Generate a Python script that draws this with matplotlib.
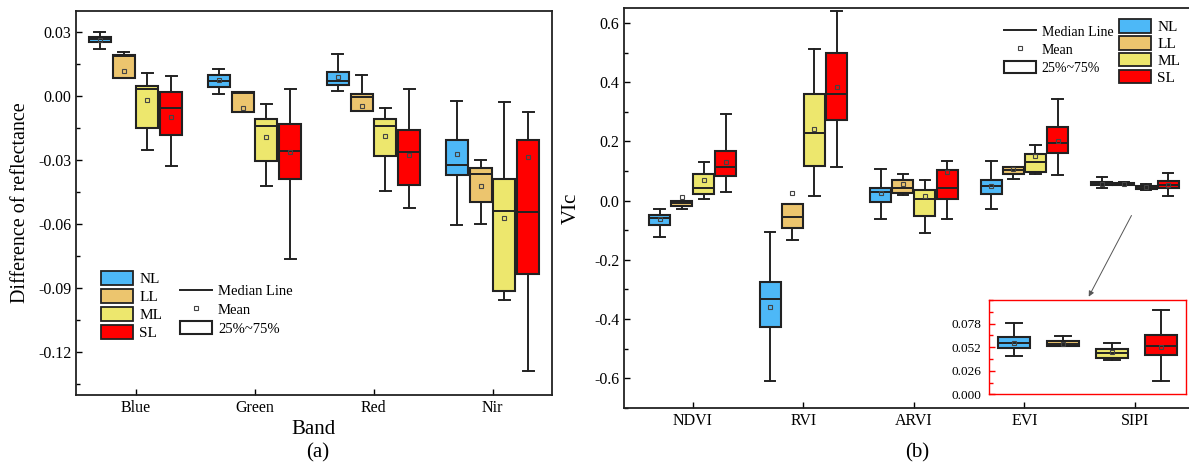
import matplotlib as mpl
mpl.use('Agg')
import matplotlib.pyplot as plt
from matplotlib.patches import Patch
from matplotlib.lines import Line2D
from matplotlib.ticker import MultipleLocator

plt.rcParams['font.family'] = ['Liberation Serif', 'DejaVu Serif']

levels = ['NL', 'LL', 'ML', 'SL']
colors = ['#4db8f7', '#ecc56e', '#ede76d', '#ff0000']

# (a) reflectance difference, rows = levels, columns = bands
bands = ['Blue', 'Green', 'Red', 'Nir']
a_low = [[0.0222, 0.0012, 0.0022, -0.0602],
         [0.0086, -0.0073, -0.0069, -0.0599],
         [-0.0252, -0.0420, -0.0444, -0.0956],
         [-0.0327, -0.0764, -0.0523, -0.1289]]
a_q1 = [[0.0252, 0.0044, 0.0053, -0.0369],
        [0.0086, -0.0073, -0.0069, -0.0498],
        [-0.0149, -0.0305, -0.0281, -0.0914],
        [-0.0181, -0.0388, -0.0417, -0.0831]]
a_med = [[0.0266, 0.0073, 0.0073, -0.0323],
         [0.0190, 0.0015, -0.0003, -0.0364],
         [0.0033, -0.0139, -0.0139, -0.0538],
         [-0.0056, -0.0255, -0.0264, -0.0544]]
a_q3 = [[0.0278, 0.0100, 0.0111, -0.0205],
        [0.0191, 0.0020, 0.0008, -0.0339],
        [0.0047, -0.0109, -0.0109, -0.0389],
        [0.0020, -0.0133, -0.0161, -0.0205]]
a_high = [[0.0301, 0.0125, 0.0197, -0.0022],
          [0.0208, 0.0020, 0.0098, -0.0300],
          [0.0109, -0.0037, -0.0056, -0.0027],
          [0.0095, 0.0031, 0.0031, -0.0075]]
a_mean = [[0.0262, 0.0075, 0.0090, -0.0269],
          [0.0117, -0.0056, -0.0047, -0.0422],
          [-0.0019, -0.0191, -0.0188, -0.0573],
          [-0.0097, -0.0261, -0.0277, -0.0284]]

# (b) vegetation index change
indices = ['NDVI', 'RVI', 'ARVI', 'EVI', 'SIPI']
b_low = [[-0.122, -0.609, -0.061, -0.028, 0.0417],
         [-0.027, -0.133, 0.018, 0.072, 0.0528],
         [0.005, 0.017, -0.108, 0.089, 0.0373],
         [0.029, 0.115, -0.063, 0.087, 0.0144]]
b_q1 = [[-0.081, -0.428, -0.004, 0.024, 0.0513],
        [-0.018, -0.094, 0.026, 0.089, 0.0528],
        [0.024, 0.118, -0.051, 0.097, 0.0398],
        [0.084, 0.274, 0.006, 0.160, 0.0428]]
b_med = [[-0.060, -0.334, 0.029, 0.051, 0.0569],
         [-0.009, -0.057, 0.041, 0.102, 0.0558],
         [0.044, 0.227, 0.005, 0.130, 0.0458],
         [0.113, 0.362, 0.041, 0.196, 0.0536]]
b_q3 = [[-0.048, -0.276, 0.042, 0.069, 0.0627],
        [-0.003, -0.012, 0.068, 0.112, 0.0587],
        [0.091, 0.360, 0.036, 0.157, 0.0498],
        [0.166, 0.499, 0.105, 0.248, 0.0653]]
b_high = [[-0.029, -0.106, 0.106, 0.133, 0.0786],
          [-0.001, -0.012, 0.091, 0.115, 0.0642],
          [0.129, 0.513, 0.070, 0.187, 0.0565],
          [0.292, 0.640, 0.133, 0.344, 0.0934]]
b_mean = [[-0.062, -0.361, 0.025, 0.050, 0.057],
          [0.013, 0.025, 0.056, 0.108, 0.056],
          [0.070, 0.243, 0.014, 0.150, 0.047],
          [0.129, 0.384, 0.098, 0.200, 0.052]]

offsets = [-0.3, -0.1, 0.1, 0.3]


def draw_boxes(ax, low, q1, med, q3, high, mean, cols, pos_fn, width):
    for i in range(4):
        stats = []
        pos = []
        for j in cols:
            stats.append(dict(whislo=low[i][j], q1=q1[i][j], med=med[i][j],
                              q3=q3[i][j], whishi=high[i][j], mean=mean[i][j],
                              fliers=[]))
            pos.append(pos_fn(i, j))
        bp = ax.bxp(stats, positions=pos, widths=width, patch_artist=True,
                    showmeans=True, manage_ticks=False,
                    boxprops=dict(linewidth=1.5, edgecolor='#222222'),
                    medianprops=dict(color='#222222', linewidth=1.4),
                    whiskerprops=dict(color='#222222', linewidth=1.4),
                    capprops=dict(color='#222222', linewidth=1.4),
                    meanprops=dict(marker='s', markersize=3.5, markerfacecolor='none',
                                   markeredgecolor='#444444', markeredgewidth=0.8))
        for b in bp['boxes']:
            b.set_facecolor(colors[i])


def style_axis(ax):
    ax.tick_params(direction='in', length=4, width=1, labelsize=11.5)
    ax.tick_params(which='minor', direction='in', length=3, width=1)
    ax.tick_params(axis='x', which='minor', bottom=False)
    for s in ax.spines.values():
        s.set_linewidth(1.3)
        s.set_color('#222222')


fig = plt.figure(figsize=(11.89, 4.66), dpi=100)
W, H = 1189, 466

# ---- panel (a)
ax1 = fig.add_axes([76 / W, 1 - 395 / H, 476 / W, 384.3 / H])
draw_boxes(ax1, a_low, a_q1, a_med, a_q3, a_high, a_mean, range(4),
           lambda i, j: j + 1 + offsets[i], 0.185)
ax1.set_xlim(0.5, 4.5)
ax1.set_ylim(-0.14, 0.04)
ax1.set_xticks(range(1, 5))
ax1.set_xticklabels(bands)
ax1.yaxis.set_major_locator(MultipleLocator(0.03))
ax1.yaxis.set_minor_locator(MultipleLocator(0.015))
ax1.yaxis.set_major_formatter(mpl.ticker.FormatStrFormatter('%.2f'))
style_axis(ax1)
ax1.set_ylabel('Difference of reflectance', fontsize=14.5, labelpad=6)
fig.text(313 / W, 1 - 430 / H, 'Band', fontsize=15, ha='center', va='center')
fig.text(318 / W, 1 - 453 / H, '(a)', fontsize=15, ha='center', va='center')

# ---- panel (b)
ax2 = fig.add_axes([624.3 / W, 1 - 407.7 / H, 577 / W, 399.4 / H])
draw_boxes(ax2, b_low, b_q1, b_med, b_q3, b_high, b_mean, range(5),
           lambda i, j: j + 1 + offsets[i], 0.19)
ax2.set_xlim(0.38, 5.6)
ax2.set_ylim(-0.7, 0.65)
ax2.set_xticks(range(1, 6))
ax2.set_xticklabels(indices)
ax2.yaxis.set_major_locator(MultipleLocator(0.2))
ax2.yaxis.set_minor_locator(MultipleLocator(0.1))
ax2.yaxis.set_major_formatter(mpl.ticker.FormatStrFormatter('%.1f'))
style_axis(ax2)
ax2.set_ylabel('VIc', fontsize=15, labelpad=10)
fig.text(917 / W, 1 - 453 / H, '(b)', fontsize=15, ha='center', va='center')

ax2.annotate('', xy=(4.57, -0.333), xytext=(4.98, -0.042),
             arrowprops=dict(arrowstyle='-|>', color='#555555', lw=0.7,
                             mutation_scale=8))

# inset for SIPI
ax3 = fig.add_axes([989.3 / W, 1 - 394.3 / H, 196.4 / W, 94.3 / H])
draw_boxes(ax3, b_low, b_q1, b_med, b_q3, b_high, b_mean, [4],
           lambda i, j: i + 1, 0.65)
ax3.set_xlim(0.5, 4.5)
ax3.set_ylim(0, 0.104)
ax3.set_xticks([])
ax3.yaxis.set_major_locator(MultipleLocator(0.026))
ax3.yaxis.set_minor_locator(MultipleLocator(0.013))
ax3.yaxis.set_major_formatter(mpl.ticker.FormatStrFormatter('%.3f'))
ax3.tick_params(axis='y', direction='in', length=4, width=1, color='red',
                labelsize=9.5, pad=6)
ax3.tick_params(axis='y', which='minor', direction='in', length=3, width=1, color='red')
ax3.set_yticks([0.0, 0.026, 0.052, 0.078])
for s in ax3.spines.values():
    s.set_color('red')
    s.set_linewidth(1)

# ---- legends
color_handles = [Patch(facecolor=c, edgecolor='#222222', linewidth=1.3) for c in colors]
stat_handles = [Line2D([], [], color='#222222', lw=1.4),
                Line2D([], [], ls='none', marker='s', markersize=3.5,
                       markerfacecolor='none', markeredgecolor='#444444', markeredgewidth=0.8),
                Patch(facecolor='white', edgecolor='#222222', linewidth=1.5)]
stat_labels = ['Median Line', 'Mean', '25%~75%']

leg = dict(frameon=False, borderpad=0, borderaxespad=0,
           handletextpad=0.4, loc='upper left', bbox_transform=fig.transFigure)

l1 = ax1.legend(color_handles, levels, bbox_to_anchor=(101 / W, 1 - 271 / H),
                fontsize=11, handlelength=2.1, handleheight=1.05,
                labelspacing=0.18, **leg)
ax1.add_artist(l1)
ax1.legend(stat_handles, stat_labels, bbox_to_anchor=(180 / W, 1 - 284 / H),
           fontsize=10.5, handlelength=2.2, handleheight=0.95,
           labelspacing=0.3, **leg)

l2 = ax2.legend(color_handles, levels, bbox_to_anchor=(1119 / W, 1 - 19 / H),
                fontsize=11, handlelength=2.1, handleheight=1.0,
                labelspacing=0.12, **leg)
ax2.add_artist(l2)
ax2.legend(stat_handles, stat_labels, bbox_to_anchor=(1004 / W, 1 - 25 / H),
           fontsize=10, handlelength=2.3, handleheight=0.95,
           labelspacing=0.3, **leg)

fig.savefig('out.png', dpi=100)
